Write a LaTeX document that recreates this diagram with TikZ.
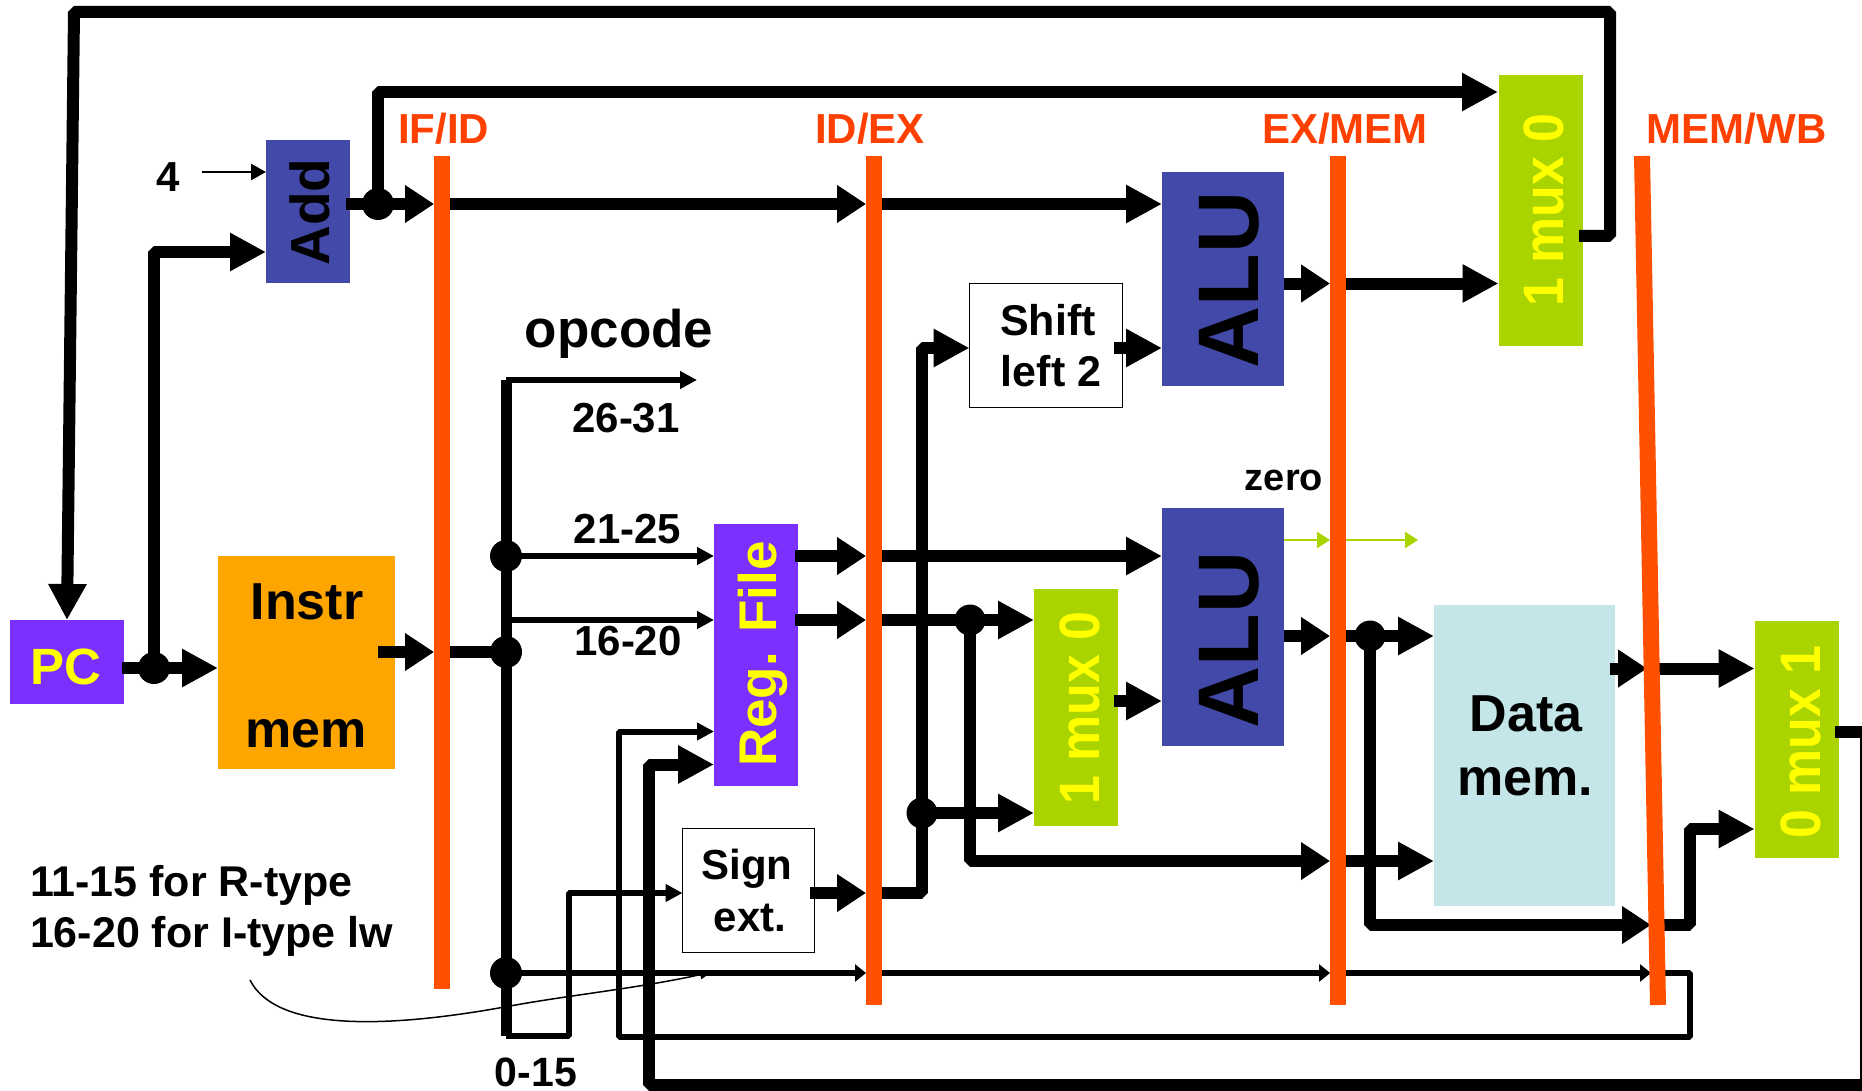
\documentclass[tikz,border=0pt]{standalone}
\usepackage{fontspec}
\setmainfont{Liberation Sans}
\newfontface\muxface{Liberation Sans Bold}[FakeStretch=0.91]
\usetikzlibrary{arrows.meta}
\pgfdeclarelayer{bars}
\pgfsetlayers{main,bars}
\definecolor{cPC}{HTML}{7B30FF}
\definecolor{cInstr}{HTML}{FFA500}
\definecolor{cALU}{HTML}{4349A8}
\definecolor{cMux}{HTML}{AAD400}
\definecolor{cData}{HTML}{C4E6E8}
\definecolor{cBar}{HTML}{FF5000}
\definecolor{cPipe}{HTML}{FF4000}
\definecolor{cYel}{HTML}{FFFF00}
\newcommand{\fsz}[1]{\fontsize{#1pt}{#1pt}\selectfont\bfseries}
\newcommand{\muxfs}{\fontsize{57pt}{57pt}\muxface}
\tikzset{
  box/.style={inner sep=0pt,outer sep=0pt,minimum width=#1},
  boxh/.style={minimum height=#1},
  openbox/.style={fill=white,draw=black,line width=1.6pt,inner sep=0pt,outer sep=0pt},
  pipebar/.style={fill=cBar,inner sep=0pt,outer sep=0pt,minimum width=16pt},
  jdot/.style={circle,fill=black,inner sep=0pt,outer sep=0pt,minimum size=32pt},
  wire/.style={line width=12pt,line join=bevel},
  trunk/.style={line width=11pt},
  bighead/.style={line width=12pt,line join=bevel,-{Triangle[length=36pt,width=36pt]}},
  shorthead/.style={line width=12pt,line join=bevel,-{Triangle[length=29pt,width=36pt]}},
  thinhead/.style={line width=6pt,line join=bevel,-{Triangle[length=17pt,width=17pt]}},
  nothead/.style={line width=6pt,-{Triangle[length=11pt,width=17pt]}},
  greenhead/.style={line width=2.5pt,color=cMux,-{Triangle[length=13pt,width=16pt]}},
  lbl/.style={inner sep=0pt,outer sep=0pt,anchor=base,text=black},
  lblw/.style={inner sep=0pt,outer sep=0pt,anchor=base west,text=black},
  vlbl/.style={inner sep=0pt,outer sep=0pt,anchor=base,rotate=90},
  pipelbl/.style={inner sep=0pt,outer sep=0pt,anchor=base,text=cPipe,font=\fsz{42}},
  mux/.style={fill=cMux,inner sep=0pt,outer sep=0pt,minimum width=84pt},
  unit/.style={fill=cALU,inner sep=0pt,outer sep=0pt}
}
\begin{document}
\begin{tikzpicture}[x=1pt,y=-1pt]
\useasboundingbox (0,0) rectangle (1862,1091);
\clip (0,0) rectangle (1862,1091);
% boxes
\node[box=114pt,boxh=84pt,fill=cPC] (PC) at (67,662) {};
\node[box=177pt,boxh=212.5pt,fill=cInstr] (Instr) at (306.5,662.25) {};
\node[box=84pt,boxh=261.5pt,fill=cPC] (RF) at (756,654.75) {};
\node[openbox,minimum width=132pt,minimum height=124pt] (Sign) at (748.5,890.5) {};
\node[unit,minimum width=84pt,minimum height=143pt] (Add) at (308,211.5) {};
\node[mux,minimum height=271pt] (M1) at (1540.5,210.5) {};
\node[unit,minimum width=122pt,minimum height=214pt] (ALU1) at (1223,279) {};
\node[openbox,minimum width=153pt,minimum height=124pt] (Shift) at (1046,345.5) {};
\node[unit,minimum width=122pt,minimum height=238pt] (ALU2) at (1223,627) {};
\node[mux,minimum height=237.5pt] (M2) at (1076,707.25) {};
\node[box=181pt,boxh=301.5pt,fill=cData] (Data) at (1524.5,755.25) {};
\node[mux,minimum height=237.5pt] (M3) at (1796.6,739.25) {};
% pipeline registers
\begin{pgfonlayer}{bars}
\node[pipebar,minimum height=833pt] (ifid) at (442,572.5) {};
\node[pipebar,minimum height=849pt] (idex) at (874,580.5) {};
\node[pipebar,minimum height=849pt] (exmem) at (1338,580.5) {};
\coordinate (wbT) at (1642,156);
\coordinate (wbB) at (1658,1005);
\draw[line width=16pt,cBar] (wbT) -- (wbB);
\end{pgfonlayer}
% junctions
\node[jdot] (jPC) at (154,668) {};
\node[jdot] (jAdd) at (378,204) {};
\node[jdot] (jI) at (506,652) {};
\node[jdot] (j21) at (506,556) {};
\node[jdot] (jL) at (506,973) {};
\node[jdot,minimum size=31pt] (jRF) at (970,620) {};
\node[jdot,minimum size=31pt] (jS) at (922,813) {};
\node[jdot,minimum size=31pt] (jA) at (1370,636) {};
% free ends and bends
\coordinate (fbS) at (1579,236);
\coordinate (fbR) at (1610,236);
\coordinate (fbT) at (1610,12);
\coordinate (fbL) at (74,12);
\coordinate (aIn) at (266,252);
\coordinate (four) at (202,172);
\coordinate (mTop) at (1498,92);
\coordinate (rA1) at (1284,283.5);
\coordinate (rS) at (1114,348);
\coordinate (sY) at (810,893);
\coordinate (rD) at (1346,861);
\coordinate (rM) at (1114,701);
\coordinate (iOut) at (378,652);
\coordinate (tTop) at (506,380);
\coordinate (tTip) at (697,380);
\coordinate (c16) at (506,620);
\coordinate (tBot) at (506,1036);
\coordinate (sB) at (569,1036);
\coordinate (sT) at (569,893);
\coordinate (wb1) at (1647,668.5);
\coordinate (wb1e) at (1652,668.5);
\coordinate (dOut) at (1610,668.5);
\coordinate (wb2) at (1651,925);
\coordinate (wb2e) at (1656,925);
\coordinate (wbU) at (1690,925);
\coordinate (wbV) at (1690,829);
\coordinate (wb3) at (1651,973);
\coordinate (wb3e) at (1657,973);
\coordinate (rR) at (1690,973);
\coordinate (rB) at (1690,1037);
\coordinate (rL) at (619,1037);
\coordinate (rU) at (619,731.5);
\coordinate (wS) at (1835,732);
\coordinate (wR) at (1866,732);
\coordinate (wB) at (1866,1085);
\coordinate (wL) at (649,1085);
\coordinate (wU) at (649,764.5);
\coordinate (z) at (1284,540);
\coordinate (zTip) at (1418,540);
\coordinate (cS) at (250,980);
\coordinate (cM) at (510,1006);
\coordinate (cE) at (712,972);
% main feedback
\draw[bighead] (fbS) -- (fbR) -- (fbT) -- (fbL) -- (PC.north);
% PC
\draw[bighead] ([xshift=-2pt]PC.east |- jPC.center) -- (Instr.west |- jPC.center);
\draw[bighead] (jPC.center) |- (aIn);
\draw[line width=2.5pt,-{Triangle[length=15pt,width=16pt]}] (four) -- (Add.west |- four);
% Add
\draw[shorthead] ([xshift=-4pt]Add.east |- jAdd.center) -- (ifid.west |- jAdd.center);
\draw[shorthead] (ifid.center |- jAdd.center) -- (idex.west |- jAdd.center);
\draw[bighead] (idex.center |- jAdd.center) -- (ALU1.west |- jAdd.center);
\draw[bighead] (jAdd.center) |- (mTop);
% ALU 1
\draw[shorthead] (rA1) -- (exmem.west |- rA1);
\draw[bighead] (exmem.center |- rA1) -- (M1.west |- rA1);
\draw[bighead] (rS) -- (ALU1.west |- rS);
\draw[bighead] (jS.center) |- (Shift.west |- rS);
% sign ext
\draw[shorthead] (sY) -- (idex.west |- sY);
\draw[wire] (idex.center |- sY) -| (jS.center);
\draw[bighead] (jS.center) -- (M2.west |- jS.center);
% register file outputs
\draw[shorthead] ([xshift=-3pt]RF.east |- j21.center) -- (idex.west |- j21.center);
\draw[bighead] (idex.center |- j21.center) -- (ALU2.west |- j21.center);
\draw[shorthead] ([xshift=-3pt]RF.east |- jRF.center) -- (idex.west |- jRF.center);
\draw[bighead] (idex.center |- jRF.center) -- (M2.west |- jRF.center);
\draw[shorthead] (jRF.center) |- (exmem.west |- rD);
\draw[bighead] (exmem.center |- rD) -- (Data.west |- rD);
\draw[bighead] (rM) -- (ALU2.west |- rM);
% ALU 2
\draw[shorthead] (ALU2.east |- jA.center) -- (exmem.west |- jA.center);
\draw[bighead] (exmem.center |- jA.center) -- (Data.west |- jA.center);
\draw[shorthead] (jA.center) |- (wb2);
\draw[bighead] (wb2e) -- (wbU) -- (wbV) -- (M3.west |- wbV);
\draw[shorthead] (dOut) -- (wb1);
\draw[bighead] (wb1e) -- (M3.west |- wb1e);
\draw[greenhead] (z) -- (exmem.west |- z);
\draw[greenhead] (exmem.center |- z) -- (zTip);
% instruction fields
\draw[shorthead] (iOut) -- (ifid.west |- iOut);
\draw[wire] (ifid.center |- jI.center) -- (jI.center);
\draw[trunk] (tTop) -- (tBot);
\draw[thinhead] (tTop) -- (tTip);
\draw[thinhead] (j21.center) -- (RF.west |- j21.center);
\draw[thinhead] (c16) -- (RF.west |- c16);
\draw[thinhead] (tBot) -- (sB) -- (sT) -- (Sign.west |- sT);
\draw[nothead] (jL.center) -- (idex.west |- jL.center);
\draw[nothead] (idex.center |- jL.center) -- (exmem.west |- jL.center);
\draw[nothead] (exmem.center |- jL.center) -- (wb3);
\draw[thinhead] (wb3e) -- (rR) -- (rB) -- (rL) -- (rU) -- (RF.west |- rU);
\draw[bighead] (wS) -- (wR) -- (wB) -- (wL) -- (wU) -- (RF.west |- wU);
% annotation curve
\draw[line width=1.5pt,-{Triangle[length=12pt,width=9pt]}] (cS) .. controls (275,1030) and (380,1030) .. (cM) .. controls (570,995) and (640,988) .. (cE);
% text
\node[lbl,text=cYel,font=\fsz{51}] (tPC) at (65.5,684) {PC};
\node[lbl,font=\fsz{52}] (tI1) at (307,619) {Instr};
\node[lbl,font=\fsz{52}] (tI2) at (306,747) {mem};
\node[vlbl,text=cYel,font=\fsz{53}] (tRF) at (776.5,654) {Reg. File};
\node[vlbl,text=black,font=\fsz{55}] (tAdd) at (329,212) {Add};
\node[vlbl,text=cYel,font=\muxfs] (tM1) at (1563,210) {1 mux 0};
\node[vlbl,text=cYel,font=\muxfs] (tM2) at (1099,708) {1 mux 0};
\node[vlbl,text=cYel,font=\muxfs] (tM3) at (1820,742) {0 mux 1};
\node[vlbl,text=black,font=\fsz{86}] (tA1) at (1258,280) {ALU};
\node[vlbl,text=black,font=\fsz{86}] (tA2) at (1258,640) {ALU};
\node[lbl,font=\fsz{52}] (tD1) at (1526,731) {Data};
\node[lbl,font=\fsz{52}] (tD2) at (1525,795.5) {mem.};
\node[lbl,font=\fsz{43}] (tS1) at (1048,335) {Shift};
\node[lbl,font=\fsz{43}] (tS2) at (1051,386) {left 2};
\node[lbl,font=\fsz{42}] (tE1) at (747,879.5) {Sign};
\node[lbl,font=\fsz{42}] (tE2) at (750,931.5) {ext.};
\node[lbl,font=\fsz{53}] (tOp) at (619,347) {opcode};
\node[lbl,font=\fsz{42}] (t26) at (626,432) {26-31};
\node[lbl,font=\fsz{42}] (t21) at (627.5,543) {21-25};
\node[lbl,font=\fsz{42}] (t16) at (628,655.5) {16-20};
\node[lbl,font=\fsz{41}] (t0) at (536,1086) {0-15};
\node[lbl,font=\fsz{42}] (t4) at (168,192) {4};
\node[lblw,font=\fsz{43}] (tR) at (30,896.5) {11-15 for R-type};
\node[lblw,font=\fsz{43}] (tL) at (30,947.5) {16-20 for I-type lw};
\node[lbl,font=\fsz{38}] (tZ) at (1284,490) {zero};
\node[pipelbl] (pl1) at (443.5,144) {IF/ID};
\node[pipelbl] (pl2) at (870,144) {ID/EX};
\node[pipelbl] (pl3) at (1345,144) {EX/MEM};
\node[pipelbl] (pl4) at (1736.5,144) {MEM/WB};
\end{tikzpicture}
\end{document}
